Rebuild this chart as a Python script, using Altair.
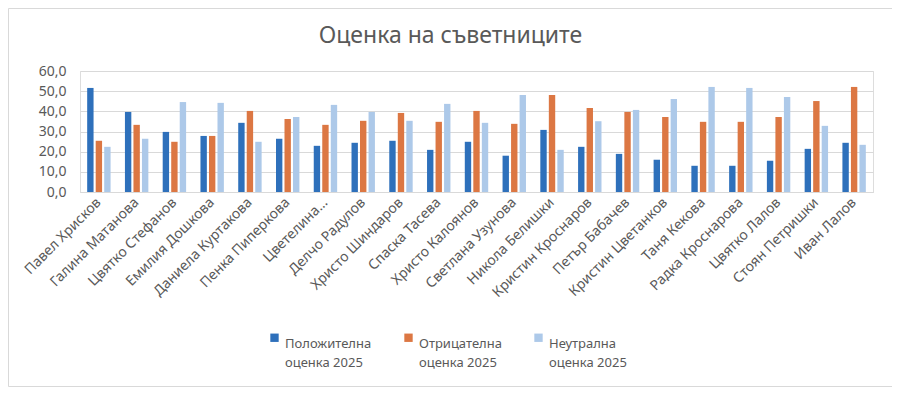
import altair as alt
import pandas as pd

names = [
    "Павел Хрисков", "Галина Матанова", "Цвятко Стефанов", "Емилия Дошкова",
    "Даниела Куртакова", "Пенка Пиперкова", "Цветелина…", "Делчо Радулов",
    "Христо Шиндаров", "Спаска Тасева", "Христо Калоянов", "Светлана Узунова",
    "Никола Белишки", "Кристин Кроснаров", "Петър Бабачев", "Кристин Цветанков",
    "Таня Кекова", "Радка Кроснарова", "Цвятко Лалов", "Стоян Петришки", "Иван Лалов",
]
positive = [51.6, 39.7, 29.8, 27.8, 34.3, 26.4, 22.9, 24.4, 25.4, 20.9, 24.9,
            18.0, 30.8, 22.4, 18.9, 16.0, 13.0, 13.0, 15.5, 21.4, 24.4]
negative = [25.4, 33.3, 24.9, 27.8, 40.2, 36.2, 33.3, 35.3, 39.2, 34.8, 40.2,
            33.8, 48.1, 41.7, 39.7, 37.2, 34.8, 34.8, 37.2, 45.1, 52.1]
neutral = [22.4, 26.4, 44.6, 44.2, 24.9, 37.2, 43.2, 39.7, 35.3, 43.7, 34.3,
           48.1, 20.9, 35.1, 40.7, 46.1, 52.1, 51.6, 47.1, 32.8, 23.4]
series = ["Положителна\nоценка 2025", "Отрицателна\nоценка 2025", "Неутрална\nоценка 2025"]
colors = ["#2E70BB", "#DC7743", "#ADC9E9"]
title = "Оценка на съветниците"

rows = []
for s, vals in zip(series, [positive, negative, neutral]):
    for n, v in zip(names, vals):
        rows.append({"name": n, "series": s, "value": v})
df = pd.DataFrame(rows)

FONT = "Noto Sans"
GREY = "#595959"

bars = alt.Chart(df).mark_bar().encode(
    x=alt.X("name:N", sort=names, title=None,
            scale=alt.Scale(paddingInner=0.38, paddingOuter=0.19),
            axis=alt.Axis(labelAngle=-45, labelAlign="right", labelBaseline="middle",
                          labelPadding=8, ticks=False, domainColor="#d9d9d9",
                          labelColor=GREY, labelFontSize=14, labelFont=FONT,
                          labelLimit=200)),
    xOffset=alt.XOffset("series:N", sort=series, scale=alt.Scale(paddingInner=0.25)),
    y=alt.Y("value:Q", title=None,
            scale=alt.Scale(domain=[0, 60]),
            axis=alt.Axis(values=[0, 10, 20, 30, 40, 50, 60], domain=False, ticks=False,
                          labelPadding=14, gridColor="#d9d9d9", labelColor=GREY,
                          labelFontSize=14, labelFont=FONT,
                          labelExpr="replace(format(datum.value, '.1f'), '.', ',')")),
    color=alt.Color("series:N", sort=series,
                    scale=alt.Scale(domain=series, range=colors),
                    legend=alt.Legend(title=None, orient="none", direction="horizontal",
                                      columns=3, legendX=188, legendY=260,
                                      symbolType="square", symbolSize=70,
                                      symbolStrokeWidth=0, columnPadding=30,
                                      labelFont=FONT, labelFontSize=13, labelColor=GREY,
                                      labelBaseline="top", labelOffset=4,
                                      labelExpr="split(datum.label, '\\n')")),
)

border = alt.Chart(pd.DataFrame({"a": [0]})).mark_rect(
    fill=None, stroke="#d9d9d9", strokeWidth=1
).encode(x=alt.value(-71.5), x2=alt.value(812.5), y=alt.value(-62.5), y2=alt.value(315.5))

chart = alt.layer(border, bars).properties(
    width=793, height=121,
    title=alt.TitleParams(title, fontSize=23, color=GREY, font=FONT, fontWeight="normal",
                          anchor="middle", dx=-26, offset=-58, baseline="alphabetic"),
    autosize=alt.AutoSizeParams(type="none"),
    padding={"left": 72, "top": 63, "right": 19, "bottom": 195},
).configure_view(stroke=None).configure(
    background="white", style={"guide-label": {"lineHeight": 19}}
)

chart.save("out.html", embed_options={"renderer": "svg", "actions": False})
